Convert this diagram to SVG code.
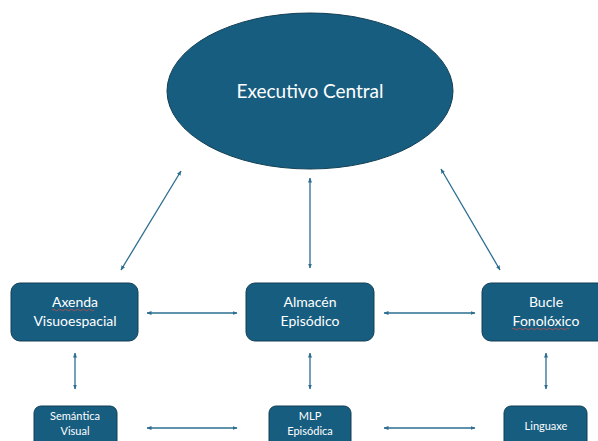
<svg xmlns="http://www.w3.org/2000/svg" width="598" height="441" viewBox="0 0 598 441">
<defs>
<marker id="ah" viewBox="0 0 10 10" refX="9" refY="5" markerWidth="5" markerHeight="5" orient="auto-start-reverse" markerUnits="userSpaceOnUse"><path d="M0,1 L10,5 L0,9 Z" fill="#2c6e91"/></marker>
<style>
.n{fill:#175d7f;stroke:#123f55;stroke-width:1}
.t{fill:#ffffff;font-family:Lato,"Open Sans","Liberation Sans",sans-serif;text-anchor:middle}
.c{stroke:#2c6e91;stroke-width:1.3;fill:none;marker-start:url(#ah);marker-end:url(#ah)}
.sq{stroke:#c0504d;stroke-width:0.8;fill:none}
</style>
</defs>
<rect width="598" height="441" fill="#ffffff"/>
<g id="executivo">
<ellipse class="n" cx="310" cy="91" rx="143" ry="78"/>
<text class="t" x="310" y="98" font-size="19">Executivo Central</text>
</g>
<g id="axenda">
<rect class="n" x="11" y="283" width="127" height="58" rx="9"/>
<text class="t" x="75" y="307" font-size="14">Axenda</text>
<path class="sq" d="M52,310 q1.5,-1.5 3,0 t3,0 t3,0 t3,0 t3,0 t3,0 t3,0 t3,0 t3,0 t3,0 t3,0 t3,0 t3,0 t3,0"/>
<text class="t" x="75" y="326" font-size="14">Visuoespacial</text>
</g>
<g id="almacen">
<rect class="n" x="246" y="283" width="128" height="58" rx="9"/>
<text class="t" x="310" y="307" font-size="14">Almacén</text>
<text class="t" x="310" y="326" font-size="14">Episódico</text>
</g>
<g id="bucle">
<rect class="n" x="482" y="283" width="128" height="58" rx="9"/>
<text class="t" x="546" y="307" font-size="14">Bucle</text>
<text class="t" x="546" y="326" font-size="14">Fonolóxico</text>
<path class="sq" d="M512,329 q1.5,-1.5 3,0 t3,0 t3,0 t3,0 t3,0 t3,0 t3,0 t3,0 t3,0 t3,0 t3,0 t3,0 t3,0 t3,0 t3,0 t3,0 t3,0 t3,0 t3,0"/>
</g>
<g id="semantica">
<rect class="n" x="34" y="406" width="83" height="50" rx="7"/>
<text class="t" x="75" y="420" font-size="11">Semántica</text>
<text class="t" x="75" y="435" font-size="11">Visual</text>
</g>
<g id="mlp">
<rect class="n" x="269" y="406" width="82" height="50" rx="7"/>
<text class="t" x="310" y="420" font-size="11">MLP</text>
<text class="t" x="310" y="435" font-size="11">Episódica</text>
</g>
<g id="linguaxe">
<rect class="n" x="504" y="406" width="83" height="50" rx="7"/>
<text class="t" x="546" y="430" font-size="11">Linguaxe</text>
</g>
<g id="connectors">
<line class="c" x1="181" y1="171" x2="121" y2="270"/>
<line class="c" x1="310" y1="178" x2="310" y2="268"/>
<line class="c" x1="441" y1="169" x2="500" y2="270"/>
<line class="c" x1="147" y1="313" x2="237" y2="313"/>
<line class="c" x1="384" y1="313" x2="475" y2="313"/>
<line class="c" x1="75" y1="353" x2="75" y2="389"/>
<line class="c" x1="310" y1="353" x2="310" y2="389"/>
<line class="c" x1="546" y1="353" x2="546" y2="389"/>
<line class="c" x1="147" y1="428" x2="237" y2="428"/>
<line class="c" x1="384" y1="428" x2="475" y2="428"/>
</g>
</svg>
